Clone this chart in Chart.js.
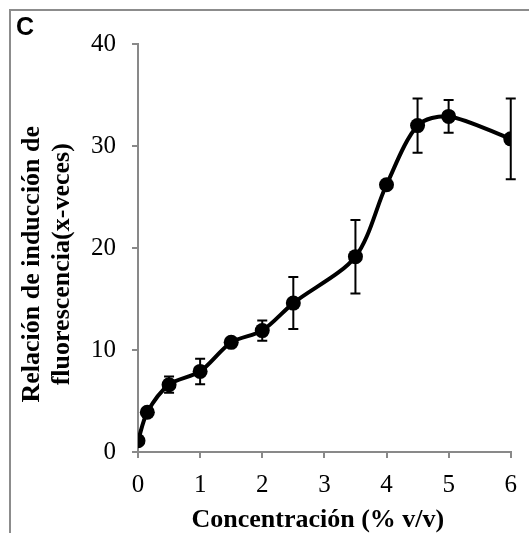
<!DOCTYPE html>
<html>
<head>
<meta charset="utf-8">
<script src="https://cdn.jsdelivr.net/npm/chart.js@4"></script>
<style>
  html, body { margin: 0; padding: 0; background: #fff; }
  #wrap { position: relative; width: 529px; height: 533px; overflow: hidden; }
  #frame { position: absolute; left: 9px; top: 9px; width: 600px; height: 600px;
           border-left: 2px solid #8c8c8c; border-top: 2px solid #8c8c8c; }
  #panel { position: absolute; left: 16px; top: 12px; font: bold 25px "Liberation Sans", Arial, sans-serif; }
  canvas { position: absolute; left: 0; top: 0; }
</style>
</head>
<body>
<div id="wrap">
  <div id="frame"></div>
  <canvas id="chart" width="529" height="533"></canvas>
  <div id="panel">C</div>
</div>
<script>
'use strict';

// ── Data ──────────────────────────────────────────────────────────────────────

const concentration = [0, 0.15, 0.5, 1, 1.5, 2, 2.5, 3.5, 4, 4.5, 5, 6];
const foldInduction = [1.1, 3.9, 6.6, 7.9, 10.75, 11.9, 14.6, 19.15, 26.2, 32.0, 32.9, 30.7];
const foldError     = [0, 0, 0.8, 1.25, 0.2, 1.0, 2.55, 3.6, 0.3, 2.65, 1.6, 3.95];

const xTicks = [0, 1, 2, 3, 4, 5, 6];
const yTicks = [0, 10, 20, 30, 40];

// trailing spaces nudge the centred titles the way the original sits
const xTitle = 'Concentración (% v/v)  ';
const yTitle = ['Relación de inducción de     ', 'fluorescencia(x-veces)     '];

// ── Error bars ────────────────────────────────────────────────────────────────

const errorBars = {
  id: 'errorBars',
  beforeDatasetsDraw(chart) {
    const { ctx, scales: { x, y } } = chart;
    ctx.save();
    ctx.strokeStyle = '#000';
    ctx.lineWidth = 2;
    concentration.forEach((c, i) => {
      const e = foldError[i];
      if (!e) return;
      const px = x.getPixelForValue(c);
      const top = y.getPixelForValue(foldInduction[i] + e);
      const bot = y.getPixelForValue(foldInduction[i] - e);
      ctx.beginPath();
      ctx.moveTo(px, top); ctx.lineTo(px, bot);
      ctx.moveTo(px - 5, top); ctx.lineTo(px + 5, top);
      ctx.moveTo(px - 5, bot); ctx.lineTo(px + 5, bot);
      ctx.stroke();
    });
    ctx.restore();
  },
};

// ── Chart ─────────────────────────────────────────────────────────────────────

const axisGray = '#898989';
const serif = "'Liberation Serif', 'Times New Roman', serif";
const tickFont = { family: serif, size: 25 };
const titleFont = { family: serif, size: 26, weight: 'bold', lineHeight: 1.15 };

new Chart(document.getElementById('chart'), {
  type: 'line',
  data: {
    datasets: [{
      data: concentration.map((c, i) => ({ x: c, y: foldInduction[i] })),
      borderColor: '#000',
      backgroundColor: '#000',
      borderWidth: 4,
      tension: 0.3,
      pointRadius: 7.5,
      pointBackgroundColor: '#000',
      pointBorderColor: '#000',
      pointBorderWidth: 0,
      fill: false,
    }],
  },
  options: {
    responsive: false,
    animation: false,
    devicePixelRatio: 1,
    layout: { padding: { left: 0, right: 12.7, top: 44, bottom: 0 } },
    plugins: { legend: { display: false }, tooltip: { enabled: false } },
    scales: {
      x: {
        type: 'linear', min: 0, max: 6,
        afterBuildTicks: s => { s.ticks = xTicks.map(v => ({ value: v })); },
        afterFit: s => { s.height = 81; },
        grid: { drawOnChartArea: false, drawTicks: true, tickLength: 6, color: axisGray, lineWidth: 2 },
        border: { color: axisGray, width: 2 },
        ticks: { color: '#000', font: tickFont, padding: 12, maxRotation: 0 },
        title: { display: true, text: xTitle, color: '#000', font: { ...titleFont, lineHeight: 1.0 }, padding: { top: 0, bottom: 0 } },
      },
      y: {
        type: 'linear', min: 0, max: 40,
        afterBuildTicks: s => { s.ticks = yTicks.map(v => ({ value: v })); },
        afterFit: s => { s.width = 138; },
        grid: { drawOnChartArea: false, drawTicks: true, tickLength: 6, color: axisGray, lineWidth: 2 },
        border: { color: axisGray, width: 2 },
        ticks: { color: '#000', font: tickFont, padding: 16 },
        title: { display: true, text: yTitle, color: '#000', font: titleFont, padding: { top: 17, bottom: 0 } },
      },
    },
  },
  plugins: [errorBars],
});
</script>
</body>
</html>
